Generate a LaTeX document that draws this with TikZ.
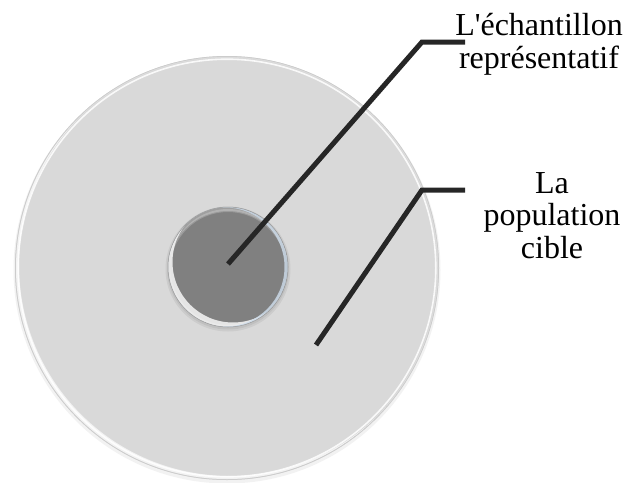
\documentclass[tikz,border=0pt]{standalone}
\usepackage{fontspec}
\setmainfont{Liberation Serif}
\definecolor{popfill}{RGB}{217,217,217}
\definecolor{echfill}{RGB}{128,128,128}
\definecolor{rimblue}{RGB}{205,220,235}
\definecolor{leadercol}{RGB}{38,38,38}
\begin{document}
\begin{tikzpicture}[x=1pt,y=-1pt,
  disc/.style={circle,inner sep=0pt,outer sep=0pt},
  leader/.style={draw=leadercol,line width=5pt,line cap=butt,line join=miter},
  caption/.style={align=center,inner sep=0pt,font=\fontsize{32}{32.5}\selectfont}]
\useasboundingbox (0,0) rectangle (626,482);

% outer disc: the target population
\fill[black,opacity=0.05] (227,270) circle (213.5);
\node[disc,fill=popfill,minimum size=424pt] (pop) at (227,268) {};
\draw[black!20,line width=0.8pt] (pop.center) circle (211.6);
\draw[white,line width=1.6pt,opacity=0.85] (pop.center) circle (208.8);
\begin{scope}
  \clip (pop.center) circle (211);
  \fill[white,opacity=0.7,even odd rule] (pop.center) circle (211) (230,265) circle (211);
\end{scope}

% inner disc: the sample, with a soft shadow underneath
\fill[black,opacity=0.06] (228,269) circle (62.5);
\fill[black,opacity=0.06] (228,268.5) circle (61);
\node[disc,fill=echfill,minimum size=120pt] (ech) at (228,267) {};
\begin{scope}
  \clip (ech.center) circle (60);
  % light band along the top
  \fill[white,opacity=0.25,even odd rule] (ech.center) circle (60) (228,271) circle (60);
  \fill[white,opacity=0.2,even odd rule] (ech.center) circle (58) (228,270) circle (58);
  % bright crescent at the lower left
  \fill[white,opacity=0.8,even odd rule] (ech.center) circle (60) (233,262) circle (60.5);
  % pale blue rim on the right
  \fill[rimblue,opacity=0.8,even odd rule] (ech.center) circle (60) (225,267) circle (59.5);
\end{scope}
\draw[black!40,line width=0.5pt] (ech.center) circle (60);

% labels
\node[caption,anchor=base] (lab1) at (539,68) {L\textquotesingle échantillon\\représentatif};
\node[caption,anchor=base] (lab2) at (552,258) {La\\population\\cible};

% leader lines
\coordinate (s1) at (228,264);
\coordinate (k1) at (422,42);
\coordinate (e1) at (465,42);
\coordinate (s2) at (316,345);
\coordinate (k2) at (422,190);
\coordinate (e2) at (465,190);
\draw[leader] (s1) -- (k1) -- (e1);
\draw[leader] (s2) -- (k2) -- (e2);
\end{tikzpicture}
\end{document}
